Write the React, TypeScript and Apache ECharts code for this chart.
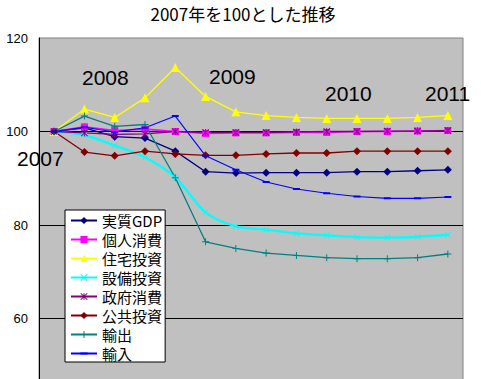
import React, { useEffect, useRef } from "react";
import * as echarts from "echarts";

const categories = [
  "2007", "2008Q1", "2008Q2", "2008Q3", "2008Q4", "2009Q1", "2009Q2",
  "2009Q3", "2009Q4", "2010Q1", "2010Q2", "2010Q3", "2010Q4", "2011Q1",
];

const seriesNames = ["実質GDP", "個人消費", "住宅投資", "設備投資", "政府消費", "公共投資", "輸出", "輸入"];

const realGdp = [100, 100.8, 98.9, 98.6, 95.8, 91.4, 91.1, 91.2, 91.2, 91.2, 91.4, 91.4, 91.6, 91.8];
const privateConsumption = [100, 101.0, 100.2, 100.5, 100.0, 99.6, 99.7, 99.7, 99.8, 99.8, 100.0, 100.0, 100.1, 100.2];
const housingInvestment = [100, 104.8, 103.0, 107.2, 113.7, 107.5, 104.2, 103.4, 103.0, 102.8, 102.8, 102.8, 103.0, 103.4];
const capitalInvestment = [100, 99.2, 97.0, 94.5, 90.2, 82.7, 79.7, 79.0, 78.2, 77.8, 77.4, 77.3, 77.5, 77.9];
const governmentConsumption = [100, 99.7, 99.4, 99.5, 100.0, 99.8, 99.8, 99.8, 99.9, 100.0, 100.0, 100.1, 100.1, 100.2];
const publicInvestment = [100, 95.6, 94.8, 95.8, 95.2, 94.9, 94.9, 95.2, 95.4, 95.4, 95.8, 95.8, 95.8, 95.8];
const exportsData = [100, 103.3, 101.1, 101.5, 90.1, 76.4, 75.0, 74.0, 73.5, 73.0, 72.8, 72.8, 73.0, 73.8];
const importsData = [100, 100.9, 99.9, 100.8, 103.3, 94.8, 91.8, 89.2, 87.7, 86.8, 86.1, 85.7, 85.7, 86.0];

const yearLabels = ["2007", "2008", "2009", "2010", "2011"];
const titleText = "2007年を100とした推移";

const X_SYM = "path://M0,1L1,0L5,4L9,0L10,1L6,5L10,9L9,10L5,6L1,10L0,9L4,5Z";
const STAR_SYM = "path://M0,1L1,0L5,4L9,0L10,1L6,5L10,9L9,10L5,6L1,10L0,9L4,5Z M4.4,0L5.6,0L5.6,10L4.4,10Z";
const PLUS_SYM = "path://M4.3,0L5.7,0L5.7,4.3L10,4.3L10,5.7L5.7,5.7L5.7,10L4.3,10L4.3,5.7L0,5.7L0,4.3L4.3,4.3Z";
const DASH_SYM = "path://M0,0L0,0Z M0,3.6L10,3.6L10,6.4L0,6.4Z M10,10L10,10Z";

export default function App() {
  const ref = useRef<HTMLDivElement>(null);
  useEffect(() => {
    if (!ref.current) return;
    const chart = echarts.init(ref.current, undefined, { renderer: "svg" });
    const mk = (
      name: string,
      data: number[],
      color: string,
      symbol: string,
      symbolSize: any,
      width = 1.3,
      smooth: any = false
    ) => ({
      name,
      type: "line",
      data,
      symbol,
      symbolSize,
      smooth,
      showSymbol: true,
      lineStyle: { color, width },
      itemStyle: { color, borderColor: color, borderWidth: 0 },
      emphasis: { disabled: true },
    });
    const digitFont = "Liberation Sans, Arial, sans-serif";
    chart.setOption({
      animation: false,
      backgroundColor: "#ffffff",
      title: {
        text: titleText,
        left: 243,
        textAlign: "center",
        top: 5,
        padding: 0,
        textStyle: { fontSize: 17, fontWeight: "normal", color: "#000", fontFamily: "Noto Sans CJK JP" },
      },
      grid: {
        left: 39,
        right: 18,
        top: 38,
        bottom: 18,
        show: true,
        backgroundColor: "#c0c0c0",
        borderColor: "#808080",
        borderWidth: 1,
      },
      xAxis: {
        type: "category",
        data: categories,
        boundaryGap: true,
        axisLine: { show: false },
        axisTick: { show: false },
        axisLabel: { show: false },
        splitLine: { show: false },
      },
      yAxis: {
        type: "value",
        min: 40,
        max: 120,
        interval: 20,
        axisLine: { show: true, lineStyle: { color: "#000", width: 1 } },
        axisTick: { show: false },
        axisLabel: { margin: 11, fontSize: 13, color: "#000", fontFamily: digitFont, showMinLabel: false },
        splitLine: { show: true, showMaxLine: false, lineStyle: { color: "#000", width: 1 } },
      },
      legend: {
        orient: "vertical",
        left: 65,
        top: 210,
        z: 10,
        backgroundColor: "#ffffff",
        borderColor: "#000",
        borderWidth: 1,
        padding: [3, 3, 1, 5],
        itemGap: 4,
        itemWidth: 26,
        itemHeight: 9,
        textStyle: { fontSize: 15, lineHeight: 15, color: "#000", fontFamily: "Noto Sans CJK JP" },
        data: seriesNames,
      },
      graphic: [
        { pos: [17, 158], t: yearLabels[0] },
        { pos: [82, 77], t: yearLabels[1] },
        { pos: [209, 76], t: yearLabels[2] },
        { pos: [325, 93], t: yearLabels[3] },
        { pos: [425, 93], t: yearLabels[4] },
      ].map((d) => ({
        type: "text",
        x: d.pos[0],
        y: d.pos[1],
        z: 20,
        style: {
          text: d.t,
          font: "21px " + digitFont,
          fill: "#000",
          textAlign: "left",
          verticalAlign: "middle",
          textVerticalAlign: "middle",
        },
      })),
      series: [
        mk(seriesNames[0], realGdp, "#000080", "diamond", 8),
        mk(seriesNames[1], privateConsumption, "#ff00ff", "rect", 7, 1.6),
        mk(seriesNames[2], housingInvestment, "#ffff00", "triangle", 9),
        mk(seriesNames[3], capitalInvestment, "#00ffff", X_SYM, 6, 2.4, 0.3),
        mk(seriesNames[4], governmentConsumption, "#800080", STAR_SYM, 7),
        mk(seriesNames[5], publicInvestment, "#800000", "diamond", 8),
        mk(seriesNames[6], exportsData, "#008080", PLUS_SYM, 7),
        mk(seriesNames[7], importsData, "#0000ff", DASH_SYM, 7, 1.1),
      ],
    });
    return () => chart.dispose();
  }, []);
  return (
    <div style={{ position: "absolute", left: 0, top: 0, width: 481, height: 379, overflow: "hidden", background: "#fff" }}>
      <div ref={ref} style={{ width: 481, height: 430 }} />
    </div>
  );
}
